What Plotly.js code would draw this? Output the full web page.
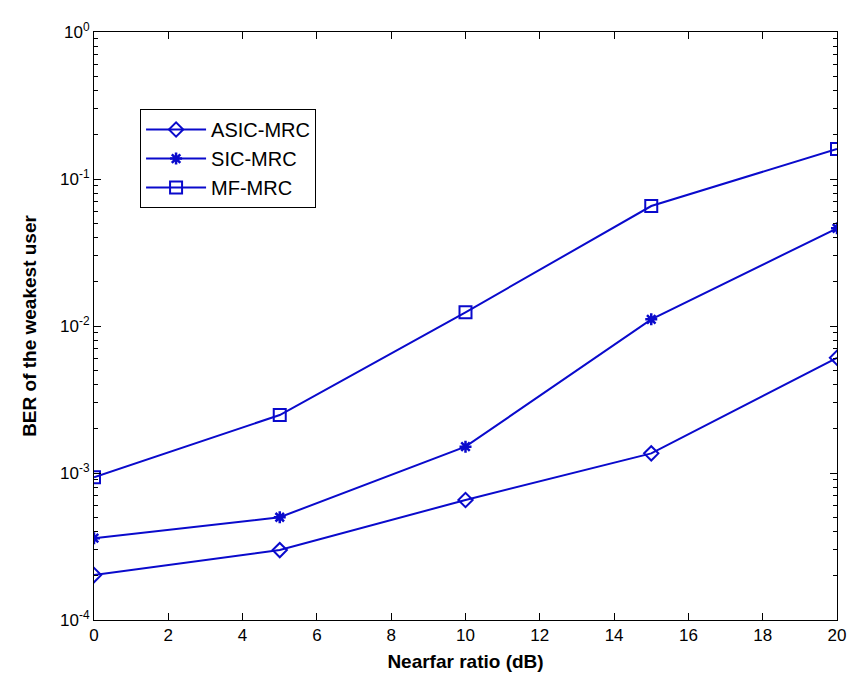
<!DOCTYPE html>
<html>
<head>
<meta charset="utf-8">
<script src="https://cdn.plot.ly/plotly-3.0.1.min.js"></script>
<style>html,body{margin:0;padding:0;background:#fff;}#chart{width:849px;height:682px;}</style>
</head>
<body>
<div id="chart"></div>
<script>
const nearfar = [0, 5, 10, 15, 20];
const asicMrc = [2.02e-4, 2.99e-4, 6.55e-4, 1.36e-3, 6.08e-3];
const sicMrc  = [3.6e-4, 5.0e-4, 1.51e-3, 1.11e-2, 4.62e-2];
const mfMrc   = [9.35e-4, 2.48e-3, 1.24e-2, 6.55e-2, 0.16];
const seriesNames = ['ASIC-MRC', 'SIC-MRC', 'MF-MRC'];
const xTicks = [0, 2, 4, 6, 8, 10, 12, 14, 16, 18, 20];
const yTickVals = [1e-4, 1e-3, 1e-2, 1e-1, 1];
const yTickText = ['10<sup>-4</sup>', '10<sup>-3</sup>', '10<sup>-2</sup>', '10<sup>-1</sup>', '10<sup>0</sup>'];
const decades = [1e-4, 1e-3, 1e-2, 1e-1];
const minorMult = [2, 3, 4, 5, 6, 7, 8, 9];

const minorVals = [];
decades.forEach(d => minorMult.forEach(m => minorVals.push(d * m)));

const blue = '#0a0acc';
const traces = [
  {x: nearfar, y: asicMrc, name: seriesNames[0], mode: 'lines+markers',
   line: {color: blue, width: 2}, marker: {symbol: 'diamond-open', size: 11, color: blue, line: {width: 2, color: blue}}},
  {x: nearfar, y: sicMrc, name: seriesNames[1], mode: 'lines+markers',
   line: {color: blue, width: 2}, marker: {symbol: 'asterisk-open', size: 10, color: blue, line: {width: 2.5, color: blue}}},
  {x: nearfar, y: mfMrc, name: seriesNames[2], mode: 'lines+markers',
   line: {color: blue, width: 2}, marker: {symbol: 'square-open', size: 12, color: blue, line: {width: 2, color: blue}}},
  {x: [], y: [], yaxis: 'y2', showlegend: false, hoverinfo: 'skip', mode: 'lines'}
];

const layout = {
  width: 849, height: 682,
  margin: {l: 94, r: 12, t: 32, b: 62},
  paper_bgcolor: '#ffffff', plot_bgcolor: '#ffffff',
  font: {family: 'Liberation Sans, Arial, sans-serif', size: 15, color: '#000'},
  showlegend: true,
  legend: {x: 0.062, y: 0.869, xanchor: 'left', yanchor: 'top', bgcolor: '#fff',
           bordercolor: '#000', borderwidth: 1, font: {size: 20, color: '#000'},
           tracegroupgap: 0, itemwidth: 60},
  xaxis: {range: [0, 20], tickvals: xTicks, ticktext: xTicks.map(String),
          ticks: 'inside', ticklen: 7, tickcolor: '#000', showgrid: false, zeroline: false,
          showline: true, linecolor: '#000', linewidth: 1, mirror: 'ticks',
          tickfont: {size: 17},
          title: {text: '<b>Nearfar ratio (dB)</b>', font: {size: 19}, standoff: 10}},
  yaxis: {type: 'log', range: [-4, 0], tickvals: yTickVals, ticktext: yTickText,
          ticks: 'inside', ticklen: 7, tickcolor: '#000', showgrid: false, zeroline: false,
          showline: true, linecolor: '#000', linewidth: 1, mirror: 'ticks',
          tickfont: {size: 17},
          title: {text: '<b>BER of the weakest user</b>', font: {size: 19}, standoff: 18}},
  yaxis2: {type: 'log', range: [-4, 0], overlaying: 'y', side: 'left',
           tickvals: minorVals, showticklabels: false,
           ticks: 'inside', ticklen: 4, tickcolor: '#000', showgrid: false, zeroline: false,
           showline: false, mirror: 'ticks'}
};

Plotly.newPlot('chart', traces, layout, {displayModeBar: false, staticPlot: true});
</script>
</body>
</html>
